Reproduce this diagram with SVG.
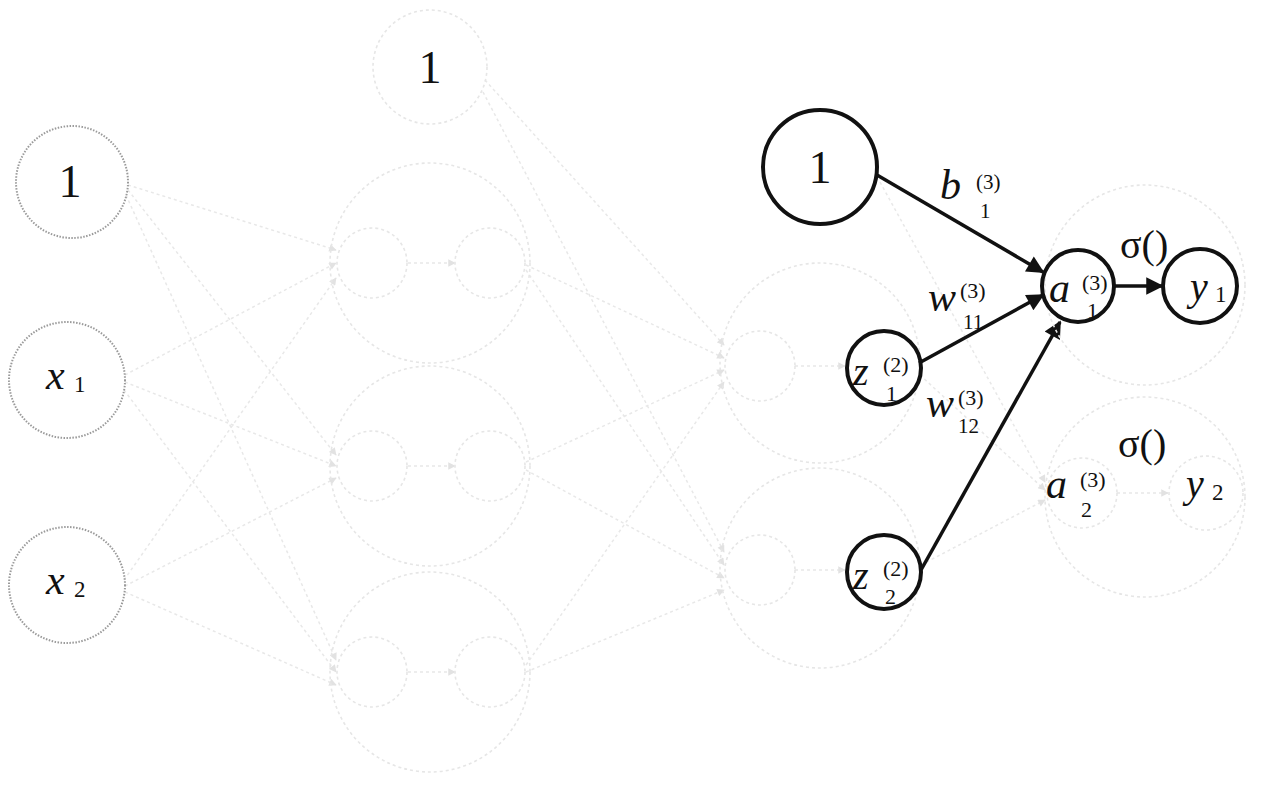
<svg xmlns="http://www.w3.org/2000/svg" width="1287" height="785" viewBox="0 0 1287 785" font-family="'Liberation Serif', 'Times New Roman', serif">
<style>
text{fill:#111}
.i{font-style:italic}
.bold{fill:none;stroke:#111;stroke-width:4}
.inp{fill:none;stroke:#9a9a9a;stroke-width:2;stroke-dasharray:1.5 1.5}
.ghost{fill:none;stroke:#e6e6e6;stroke-width:1.6;stroke-dasharray:3 3}
.ghostL{stroke:#e8e8e8;stroke-width:1.5;stroke-dasharray:3 3;fill:none}
.arr{stroke:#111;stroke-width:3.5;fill:none}
</style>
<defs>
<marker id="ah" viewBox="0 0 10 10" refX="9" refY="5" markerWidth="7" markerHeight="5" markerUnits="strokeWidth" orient="auto">
<path d="M0,0 L10,5 L0,10 z" fill="#111"/>
</marker>
<marker id="gh" viewBox="0 0 10 10" refX="9" refY="5" markerWidth="6" markerHeight="5" orient="auto">
<path d="M0,0 L10,5 L0,10 z" fill="#e2e2e2"/>
</marker>
</defs>

<g id="connectors">
<g id="ghost-connectors">
<line class="ghostL" x1="128" y1="185" x2="336" y2="250" marker-end="url(#gh)"/>
<line class="ghostL" x1="128" y1="190" x2="336" y2="455" marker-end="url(#gh)"/>
<line class="ghostL" x1="126" y1="195" x2="336" y2="660" marker-end="url(#gh)"/>
<line class="ghostL" x1="125" y1="375" x2="336" y2="263" marker-end="url(#gh)"/>
<line class="ghostL" x1="125" y1="382" x2="336" y2="466" marker-end="url(#gh)"/>
<line class="ghostL" x1="124" y1="390" x2="336" y2="672" marker-end="url(#gh)"/>
<line class="ghostL" x1="124" y1="580" x2="336" y2="278" marker-end="url(#gh)"/>
<line class="ghostL" x1="125" y1="586" x2="336" y2="478" marker-end="url(#gh)"/>
<line class="ghostL" x1="125" y1="592" x2="336" y2="685" marker-end="url(#gh)"/>
<line class="ghostL" x1="485" y1="80" x2="724" y2="345" marker-end="url(#gh)"/>
<line class="ghostL" x1="483" y1="92" x2="724" y2="552" marker-end="url(#gh)"/>
<line class="ghostL" x1="526" y1="265" x2="724" y2="358" marker-end="url(#gh)"/>
<line class="ghostL" x1="526" y1="270" x2="724" y2="565" marker-end="url(#gh)"/>
<line class="ghostL" x1="526" y1="462" x2="724" y2="370" marker-end="url(#gh)"/>
<line class="ghostL" x1="526" y1="470" x2="724" y2="578" marker-end="url(#gh)"/>
<line class="ghostL" x1="526" y1="665" x2="724" y2="382" marker-end="url(#gh)"/>
<line class="ghostL" x1="526" y1="672" x2="724" y2="590" marker-end="url(#gh)"/>
<line class="ghostL" x1="408" y1="263" x2="455" y2="263" marker-end="url(#gh)"/>
<line class="ghostL" x1="408" y1="466" x2="455" y2="466" marker-end="url(#gh)"/>
<line class="ghostL" x1="408" y1="672" x2="455" y2="672" marker-end="url(#gh)"/>
<line class="ghostL" x1="795" y1="366" x2="845" y2="366" marker-end="url(#gh)"/>
<line class="ghostL" x1="795" y1="570" x2="845" y2="570" marker-end="url(#gh)"/>
<line class="ghostL" x1="1117" y1="493" x2="1168" y2="493" marker-end="url(#gh)"/>
<line class="ghostL" x1="880" y1="182" x2="1045" y2="482" marker-end="url(#gh)"/>
<line class="ghostL" x1="920" y1="375" x2="1045" y2="490" marker-end="url(#gh)"/>
<line class="ghostL" x1="921" y1="565" x2="1045" y2="500" marker-end="url(#gh)"/>
</g>
<g id="bold-connectors">
<line class="arr" x1="877" y1="175" x2="1043" y2="272" marker-end="url(#ah)"/>
<line class="arr" x1="919" y1="363" x2="1043" y2="295" marker-end="url(#ah)"/>
<line class="arr" x1="921" y1="570" x2="1060" y2="322" marker-end="url(#ah)"/>
<line class="arr" x1="1113" y1="286" x2="1162" y2="286" marker-end="url(#ah)"/>
</g>
</g>

<g id="layer1-neurons">
<circle class="ghost" cx="430" cy="263" r="100"/>
<circle class="ghost" cx="372" cy="263" r="35"/>
<circle class="ghost" cx="490" cy="263" r="35"/>
<circle class="ghost" cx="430" cy="466" r="100"/>
<circle class="ghost" cx="372" cy="466" r="35"/>
<circle class="ghost" cx="490" cy="466" r="35"/>
<circle class="ghost" cx="430" cy="672" r="100"/>
<circle class="ghost" cx="372" cy="672" r="35"/>
<circle class="ghost" cx="490" cy="672" r="35"/>
</g>
<g id="layer2-neurons">
<circle class="ghost" cx="820" cy="363" r="100"/>
<circle class="ghost" cx="760" cy="366" r="35"/>
<circle class="ghost" cx="820" cy="568" r="100"/>
<circle class="ghost" cx="760" cy="570" r="35"/>
</g>
<g id="output-neurons">
<circle class="ghost" cx="1145" cy="285" r="100"/>
<circle class="ghost" cx="1145" cy="497" r="100"/>
<circle class="ghost" cx="1082" cy="493" r="35"/>
<circle class="ghost" cx="1206" cy="493" r="37"/>
</g>

<g id="in-bias">
<circle class="inp" cx="72" cy="182" r="56"/>
<text x="70" y="197" font-size="46" text-anchor="middle">1</text>
</g>
<g id="in-x1">
<circle class="inp" cx="67" cy="380" r="58"/>
<text class="i" x="46" y="389" font-size="42">x</text>
<text x="74" y="392" font-size="23">1</text>
</g>
<g id="in-x2">
<circle class="inp" cx="67" cy="585" r="58"/>
<text class="i" x="46" y="594" font-size="42">x</text>
<text x="74" y="597" font-size="23">2</text>
</g>
<g id="bias2">
<circle class="ghost" cx="430" cy="67" r="57"/>
<text x="430" y="83" font-size="46" text-anchor="middle">1</text>
</g>
<g id="bias3">
<circle class="bold" cx="820" cy="167" r="57"/>
<text x="820" y="183" font-size="46" text-anchor="middle">1</text>
</g>
<g id="z1">
<circle class="bold" cx="884" cy="368" r="37"/>
<text class="i" x="853" y="385" font-size="40">z</text>
<text x="883" y="372" font-size="22">(2)</text>
<text x="886" y="401" font-size="22">1</text>
</g>
<g id="z2">
<circle class="bold" cx="884" cy="572" r="37"/>
<text class="i" x="853" y="589" font-size="40">z</text>
<text x="883" y="576" font-size="22">(2)</text>
<text x="885" y="604" font-size="22">2</text>
</g>
<g id="a1">
<circle class="bold" cx="1078" cy="286" r="36"/>
<text class="i" x="1049" y="302" font-size="42">a</text>
<text x="1082" y="290" font-size="22">(3)</text>
<text x="1087" y="318" font-size="22">1</text>
</g>
<g id="y1">
<circle class="bold" cx="1200" cy="286" r="37"/>
<text class="i" x="1190" y="300" font-size="40">y</text>
<text x="1215" y="302" font-size="23">1</text>
</g>
<g id="a2">
<text class="i" x="1046" y="498" font-size="42">a</text>
<text x="1080" y="487" font-size="22">(3)</text>
<text x="1081" y="517" font-size="22">2</text>
</g>
<g id="y2">
<text class="i" x="1186" y="497" font-size="40">y</text>
<text x="1212" y="500" font-size="23">2</text>
</g>
<g id="labels">
<text class="i" x="940" y="199" font-size="42">b</text>
<text x="976" y="189" font-size="21">(3)</text>
<text x="980" y="218" font-size="21">1</text>
<text x="1120" y="258" font-size="40">σ()</text>
<text class="i" x="928" y="311" font-size="42">w</text>
<text x="960" y="298" font-size="22">(3)</text>
<text x="963" y="329" font-size="21">11</text>
<text class="i" x="926" y="417" font-size="42">w</text>
<text x="958" y="405" font-size="22">(3)</text>
<text x="958" y="433" font-size="21">12</text>
<text x="1118" y="457" font-size="40">σ()</text>
</g>
</svg>
